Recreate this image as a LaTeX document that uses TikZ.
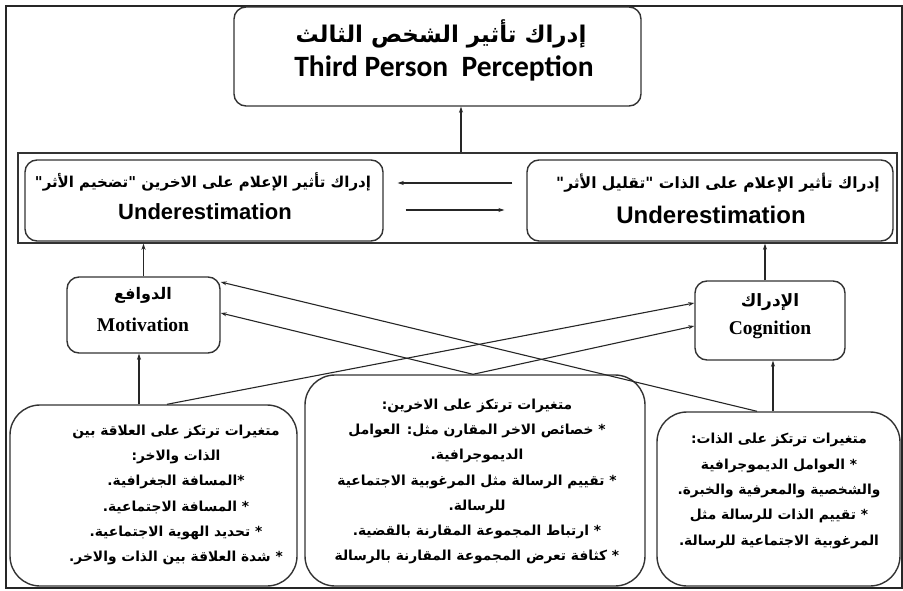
\documentclass[tikz,border=0pt]{standalone}
\usepackage{fontspec}
\usetikzlibrary{arrows.meta,calc}
\TeXXeTstate=1
\newfontfamily\arabicfont[Script=Arabic]{DejaVu Sans}
\newfontfamily\calfont{Carlito}
\newfontfamily\arialfont{Liberation Sans}
\newfontfamily\serfont{Liberation Serif}
\newcommand{\AR}[1]{{\arabicfont\bfseries\beginR #1\endR}}
\begin{document}
\begin{tikzpicture}[x=1pt,y=-1pt,
  box/.style={draw=black!80, line width=1.4pt, rounded corners=12pt, inner sep=0pt},
  bigbox/.style={box, rounded corners=30pt},
  arr/.style={-{Stealth[length=6pt,width=4pt]}, line width=1.1pt, draw=black!85},
  lbl/.style={inner sep=0pt, align=center},
  btxt/.style={lbl, font={\fontsize{13.8}{25.3}\selectfont}}
]
\useasboundingbox (0,0) rectangle (903,591);
\draw[line width=1.6pt, draw=black!85] (6,6) rectangle (902,588);

% boxes
\node[box, minimum width=407pt, minimum height=99pt] (top) at (437.5,56.5) {};
\node[draw=black!80, line width=1.4pt, inner sep=0pt, minimum width=879pt, minimum height=90pt] (band) at (457.5,198) {};
\node[box, minimum width=358pt, minimum height=81pt] (lb) at (204,200.5) {};
\node[box, minimum width=366pt, minimum height=81pt] (rb) at (710,200.5) {};
\node[box, minimum width=153pt, minimum height=76pt] (mot) at (143.5,315) {};
\node[box, minimum width=150pt, minimum height=79pt] (cog) at (770,320.5) {};
\node[bigbox, minimum width=287pt, minimum height=181pt] (bl) at (153.5,495.5) {};
\node[bigbox, minimum width=340pt, minimum height=211pt] (bm) at (475,480.5) {};
\node[bigbox, minimum width=243pt, minimum height=174pt] (br) at (778.5,499) {};

% texts
\node[lbl, font=\fontsize{23}{25}\selectfont] (topar) at (441,34) {\AR{إدراك تأثير الشخص الثالث}};
\node[lbl, font=\calfont\bfseries\fontsize{29.5}{31}\selectfont] (topen) at (444,68) {Third Person\ \ Perception};
\node[lbl, font=\fontsize{15}{17}\selectfont] (lbar) at (203,182) {\AR{إدراك تأثير الإعلام على الاخرين "تضخيم الأثر"}};
\node[lbl, font=\arialfont\bfseries\fontsize{22}{24}\selectfont] (lben) at (205,212) {Underestimation};
\node[lbl, font=\fontsize{15.5}{17}\selectfont] (rbar) at (718,183) {\AR{إدراك تأثير الإعلام على الذات "تقليل الأثر"}};
\node[lbl, font=\arialfont\bfseries\fontsize{24}{26}\selectfont] (rben) at (711,215) {Underestimation};
\node[lbl, font=\fontsize{16}{18}\selectfont] (motar) at (143,295) {\AR{الدوافع}};
\node[lbl, font=\serfont\bfseries\fontsize{19.5}{21}\selectfont] (moten) at (143,325) {Motivation};
\node[lbl, font=\fontsize{17}{19}\selectfont] (cogar) at (770,302) {\AR{الإدراك}};
\node[lbl, font=\serfont\bfseries\fontsize{19.5}{21}\selectfont] (cogen) at (770,330) {Cognition};

\node[btxt] (bltxt) at (176,495) {\AR{متغيرات ترتكز على العلاقة بين}\\ \AR{الذات والاخر:}\\ \AR{*المسافة الجغرافية.}\\ \AR{* المسافة الاجتماعية.}\\ \AR{* تحديد الهوية الاجتماعية.}\\ \AR{* شدة العلاقة بين الذات والاخر.}};
\node[btxt] (bmtxt) at (477,481.5) {\AR{متغيرات ترتكز على الاخرين:}\\ \AR{* خصائص الاخر المقارن مثل: العوامل}\\ \AR{الديموجرافية.}\\ \AR{* تقييم الرسالة مثل المرغوبية الاجتماعية}\\ \AR{للرسالة.}\\ \AR{* ارتباط المجموعة المقارنة بالقضية.}\\ \AR{* كثافة تعرض المجموعة المقارنة بالرسالة}};
\node[btxt] (brtxt) at (779,491) {\AR{متغيرات ترتكز على الذات:}\\ \AR{* العوامل الديموجرافية}\\ \AR{والشخصية والمعرفية والخبرة.}\\ \AR{* تقييم الذات للرسالة مثل}\\ \AR{المرغوبية الاجتماعية للرسالة.}};

% connectors
\draw[arr] ([xshift=3.5pt]band.north) -- ([xshift=3.5pt]band.north |- top.south);
\draw[arr] ([xshift=-14pt,yshift=17.5pt]rb.west) -- ([xshift=14pt,yshift=17.5pt]lb.east);
\draw[arr] ([xshift=22pt,yshift=-9.5pt]lb.east) -- ([xshift=-22pt,yshift=-9.5pt]rb.west);
\draw[arr] (mot.north) -- (mot.north |- band.south);
\draw[arr] ([xshift=-5pt]cog.north) -- ([xshift=-5pt]cog.north |- band.south);
\draw[arr] ([xshift=-14.5pt]bl.north) -- ([xshift=-14.5pt]bl.north |- mot.south);
\draw[arr] ([xshift=-5.5pt]br.north) -- ([xshift=-5.5pt]br.north |- cog.south);
\draw[arr] ([xshift=-21.5pt]br.north) -- ([yshift=33pt]mot.east);
\draw[arr] ([xshift=-2pt]bm.north) -- ([yshift=2pt]mot.east);
\draw[arr] ([xshift=-2pt]bm.north) -- ([yshift=-5.5pt]cog.west);
\draw[arr] ([xshift=13.5pt]bl.north) -- ([yshift=17.5pt]cog.west);
\end{tikzpicture}
\end{document}
